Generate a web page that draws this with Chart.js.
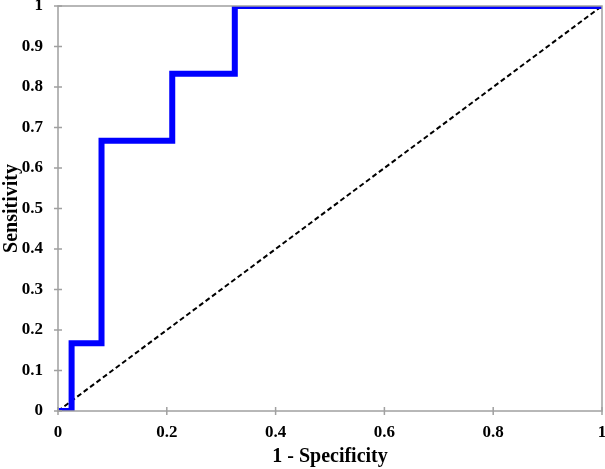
<!DOCTYPE html>
<html><head><meta charset="utf-8">
<script src="https://cdn.jsdelivr.net/npm/chart.js@4"></script>
<style>html,body{margin:0;padding:0;background:#fff}#wrap{width:605px;height:469px}</style>
</head><body><div id="wrap"><canvas id="c" width="605" height="469"></canvas></div>
<script>
const rocX = [0, 0.025, 0.025, 0.08, 0.08, 0.21, 0.21, 0.325, 0.325, 1];
const rocY = [0, 0, 0.167, 0.167, 0.667, 0.667, 0.833, 0.833, 1, 1];
const refX = [0, 1];
const refY = [0, 1];
const xTitle = '1 - Specificity';
const yTitle = 'Sensitivity';

const font = {family: '"Liberation Serif", "Times New Roman", serif', weight: 'bold', size: 17};
const titleFont = {family: '"Liberation Serif", "Times New Roman", serif', weight: 'bold', size: 20};

const frame = {
  id: 'frame',
  afterDatasetsDraw(chart) {
    const {ctx, chartArea: a, scales} = chart;
    ctx.save();
    ctx.strokeStyle = '#a0a0a0';
    ctx.lineWidth = 1.5;
    ctx.strokeRect(a.left, a.top, a.right - a.left, a.bottom - a.top);
    ctx.beginPath();
    scales.x.ticks.forEach((t, i) => {
      const px = scales.x.getPixelForTick(i);
      ctx.moveTo(px, a.bottom - 4); ctx.lineTo(px, a.bottom + 4);
    });
    scales.y.ticks.forEach((t, i) => {
      const py = scales.y.getPixelForTick(i);
      ctx.moveTo(a.left - 4, py); ctx.lineTo(a.left + 4, py);
    });
    ctx.stroke();
    ctx.restore();
  }
};

new Chart(document.getElementById('c'), {
  type: 'scatter',
  data: {
    datasets: [
      {data: rocX.map((x, i) => ({x, y: rocY[i]})), showLine: true, borderColor: '#0000ff', borderWidth: 6, pointRadius: 0, fill: false, borderJoinStyle: 'miter', borderCapStyle: 'butt'},
      {data: refX.map((x, i) => ({x, y: refY[i]})), showLine: true, borderColor: '#000', borderWidth: 2, borderDash: [5, 3], pointRadius: 0, fill: false}
    ]
  },
  options: {
    responsive: false,
    animation: false,
    layout: {padding: {left: 0, right: 3, top: 6, bottom: 0}},
    plugins: {legend: {display: false}, tooltip: {enabled: false}},
    scales: {
      x: {
        type: 'linear', min: 0, max: 1,
        ticks: {stepSize: 0.2, color: '#000', font, padding: 11, maxRotation: 0, callback: v => String(Math.round(v * 10) / 10)},
        grid: {display: false, drawTicks: false},
        border: {display: false},
        title: {display: true, text: xTitle, color: '#000', font: titleFont, padding: {top: 2, bottom: 0}},
        afterFit(s) { s.height = 58; s.paddingLeft = 0; s.paddingRight = 0; }
      },
      y: {
        type: 'linear', min: 0, max: 1,
        ticks: {stepSize: 0.1, color: '#000', font, padding: 15, callback: v => String(Math.round(v * 10) / 10)},
        grid: {display: false, drawTicks: false},
        border: {display: false},
        title: {display: true, text: yTitle, color: '#000', font: titleFont, padding: {top: 0, bottom: 0}},
        afterFit(s) { s.width = 58; s.paddingTop = 0; s.paddingBottom = 0; }
      }
    }
  },
  plugins: [frame]
});
</script></body></html>
